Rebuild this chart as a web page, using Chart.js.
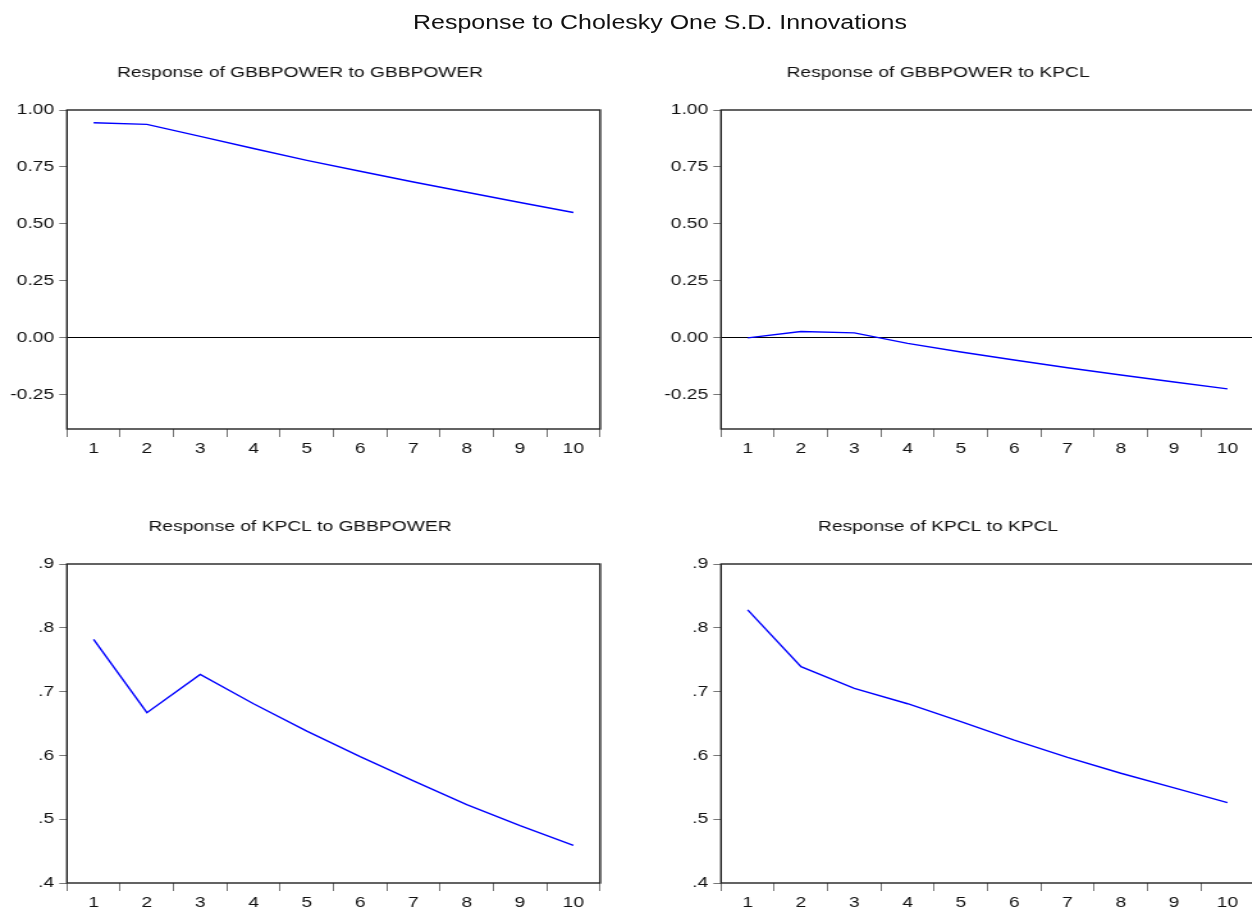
<!DOCTYPE html>
<html>
<head>
<meta charset="utf-8">
<script src="https://cdn.jsdelivr.net/npm/chart.js@4.4.1/dist/chart.umd.min.js"></script>
<style>
  html, body { margin: 0; padding: 0; background: #fff; }
  body { width: 1252px; height: 909px; overflow: hidden; position: relative; }
  /* 元の図は横方向に引き伸ばされているので、全体を横に 1.28 倍する */
  #page {
    position: absolute; left: 0; top: 0; width: 978px; height: 909px;
    transform: scaleX(1.28); transform-origin: 0 0;
  }
  #mainTitle {
    position: absolute; left: 515.6px; top: 11px; transform: translateX(-50%);
    font-family: "Liberation Sans", Arial, sans-serif; font-size: 19.5px; line-height: 22px;
    color: #111; white-space: nowrap;
  }
  canvas { position: absolute; }
</style>
</head>
<body>
<div id="page">
  <div id="mainTitle">Response to Cholesky One S.D. Innovations</div>
  <canvas id="c1" width="470" height="402" style="left:0px;top:58px"></canvas>
  <canvas id="c2" width="495" height="402" style="left:486px;top:58px"></canvas>
  <canvas id="c3" width="470" height="402" style="left:0px;top:512px"></canvas>
  <canvas id="c4" width="495" height="402" style="left:486px;top:512px"></canvas>
</div>
<script>
// 期間
var periods = ['1', '2', '3', '4', '5', '6', '7', '8', '9', '10'];

// インパルス応答
var gbbToGbb   = [0.944, 0.937, 0.884, 0.831, 0.779, 0.731, 0.684, 0.639, 0.594, 0.550];
var gbbToKpcl  = [0.000, 0.028, 0.022, -0.024, -0.062, -0.097, -0.131, -0.163, -0.194, -0.224];
var kpclToGbb  = [0.782, 0.667, 0.727, 0.681, 0.638, 0.598, 0.560, 0.523, 0.490, 0.459];
var kpclToKpcl = [0.828, 0.739, 0.705, 0.681, 0.653, 0.624, 0.597, 0.572, 0.549, 0.526];

// 目盛り
var topTickValues = [1.00, 0.75, 0.50, 0.25, 0.00, -0.25];
var topTickLabels = ['1.00', '0.75', '0.50', '0.25', '0.00', '-0.25'];
var topRange = [-0.40, 1.00];
var bottomTickValues = [0.9, 0.8, 0.7, 0.6, 0.5, 0.4];
var bottomTickLabels = ['.9', '.8', '.7', '.6', '.5', '.4'];
var bottomRange = [0.40, 0.90];

var FONT = '"Liberation Sans", Arial, sans-serif';

// 枠線
var frame = {
  id: 'frame',
  afterDatasetsDraw: function (chart) {
    var a = chart.chartArea, ctx = chart.ctx;
    ctx.save();
    ctx.strokeStyle = '#222';
    ctx.lineWidth = 1.4;
    ctx.strokeRect(a.left, a.top, a.right - a.left, a.bottom - a.top);
    ctx.restore();
  }
};

function makePanel(id, title, values, tickValues, tickLabels, range, yWidth) {
  new Chart(document.getElementById(id).getContext('2d'), {
    type: 'line',
    data: {
      labels: periods,
      datasets: [{
        data: values,
        borderColor: '#0000ff',
        borderWidth: 1.4,
        pointRadius: 0,
        tension: 0,
        fill: false
      }]
    },
    options: {
      responsive: false,
      animation: false,
      devicePixelRatio: 1,
      layout: { padding: { left: 0, right: 1.25, top: 0, bottom: 0 } },
      plugins: {
        legend: { display: false },
        tooltip: { enabled: false },
        title: {
          display: true,
          text: title,
          color: '#111',
          font: { family: FONT, size: 15, weight: 'normal' },
          padding: { top: 6, bottom: 28 }
        }
      },
      scales: {
        x: {
          offset: true,
          grid: { offset: true, drawOnChartArea: false, color: '#777', tickLength: 8 },
          border: { display: false },
          ticks: { color: '#111', font: { family: FONT, size: 15 }, padding: 3, maxRotation: 0, autoSkip: false },
          afterFit: function (axis) { axis.height = 31; }
        },
        y: {
          min: range[0],
          max: range[1],
          afterBuildTicks: function (axis) {
            axis.ticks = tickValues.map(function (v) { return { value: v }; });
          },
          grid: {
            color: function (c) { return c.tick && c.tick.value === 0 ? '#000' : 'rgba(0,0,0,0)'; },
            tickColor: '#777',
            tickLength: 6
          },
          border: { display: false },
          ticks: {
            color: '#111',
            font: { family: FONT, size: 15 },
            padding: 4,
            callback: function (v, i) { return tickLabels[i]; }
          },
          afterFit: function (axis) { axis.width = yWidth; }
        }
      }
    },
    plugins: [frame]
  });
}

makePanel('c1', 'Response of GBBPOWER to GBBPOWER', gbbToGbb, topTickValues, topTickLabels, topRange, 52.3);
makePanel('c2', 'Response of GBBPOWER to KPCL', gbbToKpcl, topTickValues, topTickLabels, topRange, 77.3);
makePanel('c3', 'Response of KPCL to GBBPOWER', kpclToGbb, bottomTickValues, bottomTickLabels, bottomRange, 52.3);
makePanel('c4', 'Response of KPCL to KPCL', kpclToKpcl, bottomTickValues, bottomTickLabels, bottomRange, 77.3);
</script>
</body>
</html>
